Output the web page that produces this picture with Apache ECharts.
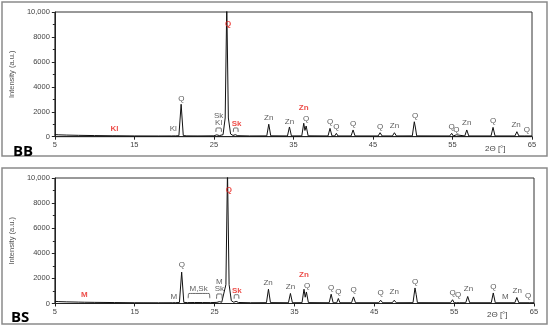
<!DOCTYPE html>
<html><head><meta charset="utf-8">
<script src="https://cdn.jsdelivr.net/npm/echarts@6/dist/echarts.min.js"></script>
<style>html,body{margin:0;padding:0;background:#fff}#c{width:550px;height:327px}</style>
</head><body><div id="c"></div>
<script>
// x-axis tick values and y-axis ticks
const xTicks = [5, 15, 25, 35, 45, 55, 65];
const yTicks = [0, 2000, 4000, 6000, 8000, 10000];

// BB diffraction pattern [2theta, intensity]
const bbPattern = [
[5,170],[5.5,150],[6.5,130],[8,110],[10,90],[12.2,75],[12.45,130],[12.7,75],[15,62],[18,58],[19.7,60],[19.95,110],[20.2,65],[20.6,80],[20.88,2600],[21.15,90],[21.6,65],[23,60],[25.0,70],[25.35,150],[25.7,90],[26.15,160],[26.42,1500],[26.62,10600],[26.82,1500],[27.1,220],[27.4,100],[27.7,160],[28.0,80],[29.5,60],[31.65,65],[31.9,1000],[32.15,70],[34.25,60],[34.5,780],[34.75,60],[36.05,65],[36.3,1080],[36.45,500],[36.6,860],[36.85,70],[39.35,60],[39.6,670],[39.85,60],[40.2,60],[40.4,270],[40.6,60],[42.25,60],[42.5,540],[42.75,60],[45.65,60],[45.9,320],[46.15,60],[47.45,60],[47.7,320],[47.95,60],[49.95,65],[50.2,1200],[50.35,700],[50.5,65],[54.65,60],[54.9,270],[55.1,60],[55.35,60],[55.5,150],[55.65,60],[56.55,60],[56.8,540],[57.05,60],[59.85,60],[60.1,750],[60.35,60],[62.85,60],[63.1,400],[63.35,60],[64.1,60],[64.3,150],[64.5,60],[65,60]
];
// BS diffraction pattern [2theta, intensity]
const bsPattern = [
[5,170],[5.5,150],[6.5,130],[8,110],[8.7,100],[10,90],[12.5,75],[15,62],[18,58],[19.7,60],[19.9,100],[20.1,65],[20.6,80],[20.88,2500],[21.15,90],[21.6,70],[22.5,80],[23.5,75],[24.5,70],[25.3,90],[25.6,150],[25.9,100],[26.15,170],[26.42,1500],[26.62,10600],[26.82,1500],[27.1,220],[27.4,100],[27.7,170],[28.0,80],[29.5,60],[31.5,65],[31.75,1140],[32.0,70],[34.25,60],[34.5,800],[34.75,60],[35.95,65],[36.2,1140],[36.35,500],[36.5,920],[36.75,70],[39.35,60],[39.6,740],[39.85,60],[40.3,60],[40.5,400],[40.7,60],[42.15,60],[42.4,525],[42.65,60],[45.55,60],[45.8,260],[46.05,60],[47.25,60],[47.5,260],[47.75,60],[49.85,65],[50.1,1240],[50.25,700],[50.4,65],[54.55,60],[54.8,300],[55.0,60],[55.3,60],[55.5,150],[55.7,60],[56.45,60],[56.7,560],[56.95,60],[59.65,60],[59.9,840],[60.15,60],[62.6,60],[62.85,480],[63.1,60],[64.0,60],[64.2,150],[64.4,60],[65,60]
];

// phase labels: [text, 2theta, intensity, red?]
const bbLabels = [
['Kl',12.5,600,1],['Kl',19.9,600,0],['Q',20.9,3050,0],['Sk',25.6,1680,0],['Kl',25.6,1130,0],
['Q',26.8,9060,1],['Sk',27.85,1000,1],['Zn',31.9,1530,0],['Zn',34.5,1200,0],['Zn',36.3,2280,1],
['Q',36.6,1400,0],['Q',39.6,1180,0],['Q',40.4,800,0],['Q',42.5,1020,0],['Q',45.9,780,0],
['Zn',47.7,860,0],['Q',50.3,1690,0],['Q',54.9,800,0],['Q',55.5,560,0],['Zn',56.8,1100,0],
['Q',60.1,1240,0],['Zn',63.0,920,0],['Q',64.35,560,0]
];
const bsLabels = [
['M',8.7,660,1],['M',19.9,525,0],['Q',20.9,3050,0],['M,Sk',23.0,1150,0],['M',25.6,1720,0],['Sk',25.6,1190,0],
['Q',26.8,9070,1],['Sk',27.8,1000,1],['Zn',31.7,1640,0],['Zn',34.5,1320,0],['Zn',36.2,2300,1],
['Q',36.6,1400,0],['Q',39.6,1270,0],['Q',40.5,900,0],['Q',42.4,1060,0],['Q',45.8,875,0],
['Zn',47.5,900,0],['Q',50.1,1750,0],['Q',54.8,875,0],['Q',55.5,660,0],['Zn',56.8,1140,0],
['Q',59.9,1350,0],['M',61.4,525,0],['Zn',62.9,1000,0],['Q',64.25,600,0]
];
// brackets: [from, to, base, top]
const bbBrackets = [[25.25,25.95,380,700],[27.45,28.05,380,700]];
const bsBrackets = [[21.7,24.4,420,800],[25.25,25.95,380,760],[27.45,28.05,380,700]];

const chart = echarts.init(document.getElementById('c'), null, {renderer:'canvas'});
const FONT = 'Liberation Sans';
function xAx(gi){
  return {type:'value', gridIndex:gi, min:5, max:65, interval:10,
    axisLine:{show:true, lineStyle:{color:'#222', width:1}},
    axisTick:{show:true, length:3, lineStyle:{color:'#222'}},
    axisLabel:{fontSize:7.5, color:'#444', fontFamily:FONT, margin:4},
    splitLine:{show:false}};
}
function yAx(gi){
  return {type:'value', gridIndex:gi, min:0, max:10000, interval:2000,
    name:'Intensity (a.u.)', nameLocation:'middle', nameGap:34, nameRotate:90,
    nameTextStyle:{fontSize:7.5, color:'#555', fontFamily:FONT},
    axisLine:{show:true, lineStyle:{color:'#222', width:1}},
    axisTick:{show:true, length:3, lineStyle:{color:'#222'}},
    minorTick:{show:true, splitNumber:2, length:2, lineStyle:{color:'#222'}},
    axisLabel:{fontSize:7.5, color:'#444', fontFamily:FONT, margin:5,
      formatter: v => v===10000 ? '10,000' : String(v)},
    splitLine:{show:false}};
}
function labelSeries(labels, gi){
  return {type:'scatter', xAxisIndex:gi, yAxisIndex:gi, symbolSize:0, silent:true, z:5,
    data: labels.map(l => ({value:[l[1], l[2]], name:l[0],
      label:{show:true, position:'inside', formatter:l[0], fontSize:8, fontFamily:FONT,
        color: l[3] ? '#e8201c' : '#333', fontWeight: l[3] ? 'bold' : 'normal'}}))};
}
function bracketSeries(br, gi){
  return br.map(b => ({type:'line', xAxisIndex:gi, yAxisIndex:gi, silent:true, symbol:'none', smooth:0.4,
    lineStyle:{color:'#444', width:0.8},
    data:[[b[0],b[2]],[b[0]+0.08,b[3]],[b[1]-0.08,b[3]],[b[1],b[2]]]}));
}
chart.setOption({
  animation:false,
  grid:[
    {left:50, top:12, right:18, height:124.7, show:true, borderColor:'#333', borderWidth:1},
    {left:51, top:178, right:16, height:125.5, show:true, borderColor:'#333', borderWidth:1}
  ],
  xAxis:[xAx(0), xAx(1)],
  yAxis:[yAx(0), yAx(1)],
  series:[
    {type:'line', xAxisIndex:0, yAxisIndex:0, data:bbPattern, symbol:'none', clip:true,
     lineStyle:{color:'#111', width:1}},
    {type:'line', xAxisIndex:1, yAxisIndex:1, data:bsPattern, symbol:'none', clip:true,
     lineStyle:{color:'#111', width:1}},
    labelSeries(bbLabels, 0), labelSeries(bsLabels, 1),
    ...bracketSeries(bbBrackets, 0), ...bracketSeries(bsBrackets, 1)
  ],
  graphic:[
    {type:'rect', shape:{x:2, y:2, width:545, height:154}, style:{fill:'none', stroke:'#8a8a8a', lineWidth:1.5}},
    {type:'rect', shape:{x:2, y:168, width:545, height:156}, style:{fill:'none', stroke:'#8a8a8a', lineWidth:1.5}},
    {type:'text', x:13, y:144, style:{text:'BB', font:'bold 15px "Open Sans"', fill:'#000'}},
    {type:'text', x:11, y:310, style:{text:'BS', font:'bold 15px "Open Sans"', fill:'#000'}},
    {type:'text', x:485, y:145, style:{text:'2Θ [°]', font:'8px "Liberation Sans"', fill:'#444'}},
    {type:'text', x:487, y:311, style:{text:'2Θ [°]', font:'8px "Liberation Sans"', fill:'#444'}}
  ]
});
</script></body></html>
